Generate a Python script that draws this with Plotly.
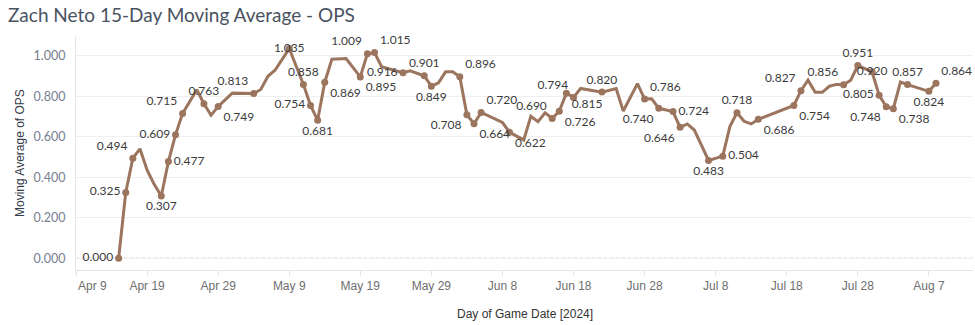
import plotly.graph_objects as go

# ---------------- data ----------------
game_dates = [
    "2024-04-15", "2024-04-16", "2024-04-17", "2024-04-18", "2024-04-19", "2024-04-20",
    "2024-04-21", "2024-04-22", "2024-04-23", "2024-04-24", "2024-04-26", "2024-04-27",
    "2024-04-28", "2024-04-29", "2024-05-01", "2024-05-04", "2024-05-05", "2024-05-06",
    "2024-05-07", "2024-05-09", "2024-05-11", "2024-05-12", "2024-05-13", "2024-05-14",
    "2024-05-15", "2024-05-17", "2024-05-19", "2024-05-20", "2024-05-21", "2024-05-22",
    "2024-05-25", "2024-05-26", "2024-05-28", "2024-05-29", "2024-05-30", "2024-05-31",
    "2024-06-01", "2024-06-02", "2024-06-03", "2024-06-04", "2024-06-05", "2024-06-08",
    "2024-06-09", "2024-06-11", "2024-06-12", "2024-06-13", "2024-06-14", "2024-06-15",
    "2024-06-16", "2024-06-17", "2024-06-18", "2024-06-19", "2024-06-22", "2024-06-24",
    "2024-06-25", "2024-06-27", "2024-06-28", "2024-06-29", "2024-06-30", "2024-07-02",
    "2024-07-03", "2024-07-04", "2024-07-05", "2024-07-07", "2024-07-09", "2024-07-10",
    "2024-07-11", "2024-07-12", "2024-07-13", "2024-07-14", "2024-07-19", "2024-07-20",
    "2024-07-21", "2024-07-22", "2024-07-23", "2024-07-24", "2024-07-25", "2024-07-26",
    "2024-07-27", "2024-07-28", "2024-07-30", "2024-07-31", "2024-08-01", "2024-08-02",
    "2024-08-03", "2024-08-04", "2024-08-07", "2024-08-08",
]
ops_ma15 = [
    0.000, 0.325, 0.494, 0.540, 0.436, 0.365,
    0.307, 0.477, 0.609, 0.715, 0.832, 0.763,
    0.706, 0.749, 0.815, 0.813, 0.833, 0.898,
    0.928, 1.035, 0.858, 0.754, 0.681, 0.869,
    0.982, 0.986, 0.895, 1.009, 1.015, 0.945,
    0.916, 0.925, 0.901, 0.849, 0.866, 0.920,
    0.920, 0.896, 0.708, 0.664, 0.720, 0.670,
    0.622, 0.584, 0.701, 0.674, 0.718, 0.690,
    0.726, 0.815, 0.794, 0.838, 0.820, 0.838,
    0.727, 0.862, 0.786, 0.787, 0.740, 0.724,
    0.646, 0.663, 0.633, 0.483, 0.504, 0.650,
    0.718, 0.676, 0.663, 0.686, 0.754, 0.827,
    0.879, 0.819, 0.819, 0.849, 0.858, 0.856,
    0.879, 0.951, 0.920, 0.805, 0.748, 0.738,
    0.870, 0.857, 0.824, 0.864,
]
# dates whose value carries a mark label, with where the label sits
label_place = {
    "2024-04-15": "middle left", "2024-04-16": "middle left", "2024-04-17": "top left",
    "2024-04-21": "bottom center", "2024-04-22": "middle right", "2024-04-23": "middle left",
    "2024-04-24": "top left", "2024-04-27": "top center", "2024-04-29": "bottom right",
    "2024-05-04": "top left", "2024-05-09": "middle center", "2024-05-11": "top center",
    "2024-05-12": "middle left", "2024-05-13": "bottom center", "2024-05-14": "bottom right",
    "2024-05-19": "bottom right", "2024-05-20": "top left", "2024-05-21": "top right",
    "2024-05-25": "middle left", "2024-05-28": "top center", "2024-05-29": "bottom center",
    "2024-06-02": "top right", "2024-06-03": "bottom left", "2024-06-04": "bottom right",
    "2024-06-05": "top right", "2024-06-09": "bottom right", "2024-06-15": "top left",
    "2024-06-16": "bottom right", "2024-06-17": "bottom right", "2024-06-18": "top left",
    "2024-06-22": "top center", "2024-06-28": "top right", "2024-06-30": "bottom left",
    "2024-07-02": "middle right", "2024-07-03": "bottom left", "2024-07-07": "bottom center",
    "2024-07-09": "middle right", "2024-07-11": "top center", "2024-07-14": "bottom right",
    "2024-07-19": "bottom right", "2024-07-20": "top left", "2024-07-26": "top left",
    "2024-07-28": "top center", "2024-07-30": "middle center", "2024-07-31": "middle left",
    "2024-08-01": "bottom left", "2024-08-02": "bottom right", "2024-08-04": "top center",
    "2024-08-07": "bottom center", "2024-08-08": "top right",
}
x_tick_dates = ["2024-04-09", "2024-04-19", "2024-04-29", "2024-05-09", "2024-05-19",
                "2024-05-29", "2024-06-08", "2024-06-18", "2024-06-28", "2024-07-08",
                "2024-07-18", "2024-07-28", "2024-08-07"]
x_tick_labels = ["Apr 9", "Apr 19", "Apr 29", "May 9", "May 19", "May 29", "Jun 8",
                 "Jun 18", "Jun 28", "Jul 8", "Jul 18", "Jul 28", "Aug 7"]
y_tick_vals = [0.0, 0.2, 0.4, 0.6, 0.8, 1.0]
y_tick_labels = ["0.000", "0.200", "0.400", "0.600", "0.800", "1.000"]

# ---------------- styling ----------------
BROWN = "#9c755f"
LABEL_FONT = "Lato, 'Open Sans', sans-serif"
AXIS_FONT = "'Liberation Sans', Arial, sans-serif"

lab_x = [d for d in game_dates if d in label_place]
lab_y = [v for d, v in zip(game_dates, ops_ma15) if d in label_place]
lab_pos = [label_place[d] for d in lab_x]

fig = go.Figure()
fig.add_trace(go.Scatter(
    x=game_dates, y=ops_ma15, mode="lines",
    line=dict(color=BROWN, width=3), hoverinfo="skip", showlegend=False,
))
fig.add_trace(go.Scatter(
    x=lab_x, y=lab_y, mode="markers+text",
    marker=dict(color=BROWN, size=7),
    text=[f"{v:.3f}" for v in lab_y], textposition=lab_pos,
    textfont=dict(family=LABEL_FONT, size=12, color="#3b3b3b"),
    cliponaxis=False, showlegend=False,
))

fig.add_shape(type="line", xref="paper", yref="y", x0=0, x1=1, y0=0, y1=0,
              line=dict(color="#b3b3b3", width=1, dash="dot"), layer="below")
fig.add_shape(type="line", xref="paper", yref="paper", x0=0, x1=0, y0=0, y1=-0.02,
              line=dict(color="#e6e6e6", width=1), layer="below")

fig.update_layout(
    width=975, height=325,
    margin=dict(l=76, r=2, t=36, b=55),
    paper_bgcolor="white", plot_bgcolor="white",
    title=dict(text="Zach Neto 15-Day Moving Average - OPS",
               x=8 / 975, xanchor="left", xref="container",
               y=1 - 15 / 325, yanchor="middle", yref="container",
               font=dict(family=LABEL_FONT, size=19, color="#4a5261")),
    xaxis=dict(
        type="date", range=["2024-04-09", "2024-08-13 05:00"],
        tickvals=x_tick_dates, ticktext=[""] + x_tick_labels[1:],
        showgrid=False, zeroline=False,
        showline=True, linecolor="#e6e6e6", linewidth=1,
        ticks="outside", ticklen=5, tickcolor="#e6e6e6",
        tickfont=dict(family=AXIS_FONT, size=12, color="#6e6e6e"),
    ),
    yaxis=dict(
        range=[-0.058, 1.097], tickvals=y_tick_vals, ticktext=y_tick_labels,
        showgrid=True, gridcolor="#efefef", gridwidth=1, zeroline=False,
        showline=True, linecolor="#e6e6e6", linewidth=1,
        ticks="", ticklabelstandoff=7,
        tickfont=dict(family=LABEL_FONT, size=12.5, color="#76808f"),
    ),
    annotations=[
        dict(text=x_tick_labels[0], x=x_tick_dates[0], xref="x", xanchor="left",
             y=0, yref="paper", yanchor="middle", yshift=-16, showarrow=False,
             font=dict(family=AXIS_FONT, size=12, color="#6e6e6e")),
        dict(text="Day of Game Date [2024]", x=0.5, xref="paper", xanchor="center",
             y=0, yref="paper", yanchor="middle", yshift=-44, showarrow=False,
             font=dict(family=AXIS_FONT, size=12, color="#333333")),
        dict(text="Moving Average of OPS", x=0, xref="paper", xshift=-56,
             xanchor="center", y=0.5, yref="paper", yanchor="middle",
             textangle=-90, showarrow=False,
             font=dict(family=AXIS_FONT, size=12, color="#333b4a")),
    ],
)

fig.write_html("out.html")
